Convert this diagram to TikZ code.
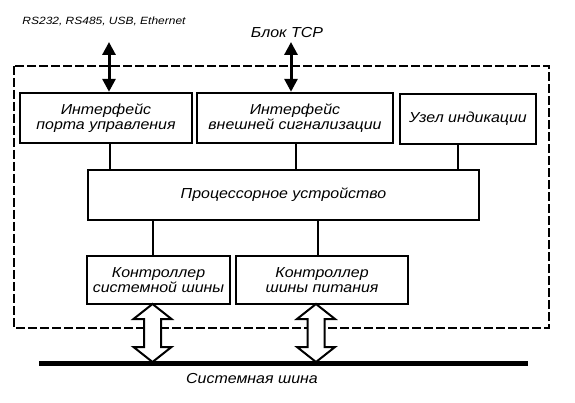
\documentclass[tikz,border=0pt]{standalone}
\usepackage{fontspec}
\setmainfont{Liberation Sans}
\newfontfamily\gostfont[FakeStretch=1.1]{Liberation Sans}
\newfontfamily\gostsmall[FakeStretch=1.14]{Liberation Sans}
\usetikzlibrary{arrows.meta}
\begin{document}
\begin{tikzpicture}[x=1pt,y=-1pt,
  txt/.style={font=\gostfont\itshape\fontsize{14.5}{15}\selectfont,align=center,inner sep=0pt},
  box/.style={draw,line width=2.4pt,inner sep=0pt,txt},
  link/.style={line width=2pt},
  port/.style={line width=3pt,{Triangle[width=13pt,length=13pt]}-{Triangle[width=13pt,length=13pt]},shorten <=0pt,shorten >=0pt},
  frame/.style={line width=2pt,dash pattern=on 9pt off 3pt},
  hollow/.style={draw,line width=2pt,fill=white,line join=miter}
]
\useasboundingbox (0,0) rectangle (575,403);
% dashed enclosure
\draw[frame] (14,66) rectangle (549,328);
% labels
\node[txt,font=\gostsmall\itshape\fontsize{10.5}{12}\selectfont] (ports) at (104,21) {RS232, RS485, USB, Ethernet};
\node[txt] (tcp) at (287,33) {Блок ТСР};
% boxes
\node[box,minimum width=172,minimum height=50] (b1) at (106,118) {Интерфейс\\порта управления};
\node[box,minimum width=196,minimum height=50] (b2) at (295,118) {Интерфейс\\внешней сигнализации};
\node[box,minimum width=136,minimum height=50] (b3) at (468,119) {Узел индикации};
\node[box,minimum width=391,minimum height=50] (proc) at (283.5,195) {Процессорное устройство};
\node[box,minimum width=143,minimum height=48] (c1) at (158.5,280) {Контроллер\\системной шины};
\node[box,minimum width=172,minimum height=48] (c2) at (322,280) {Контроллер\\шины питания};
% connectors
\draw[link] ([xshift=4pt]b1.south) -- ([xshift=4pt]b1.south |- proc.north);
\draw[link] ([xshift=1pt]b2.south) -- ([xshift=1pt]b2.south |- proc.north);
\draw[link] ([xshift=-10pt]b3.south) -- ([xshift=-10pt]b3.south |- proc.north);
\draw[link] ([xshift=-5.5pt]c1.north) -- ([xshift=-5.5pt]c1.north |- proc.south);
\draw[link] ([xshift=-4pt]c2.north) -- ([xshift=-4pt]c2.north |- proc.south);
% top ports
\coordinate (p1) at (109,42);
\coordinate (p2) at (291,42);
\draw[port] (p1) -- (p1 |- b1.north);
\draw[port] (p2) -- (p2 |- b2.north);
% system bus
\coordinate (busL) at (39,363.5);
\coordinate (busR) at (528,363.5);
\draw[line width=5pt] (busL) -- (busR);
\node[txt] (buslbl) at (252,379) {Системная шина};
% hollow double arrows
\foreach \c/\n in {152.5/c1,316/c2}{
  \draw[hollow] (\c,304) -- (\c+19,319) -- (\c+8.5,319) -- (\c+8.5,347) -- (\c+19,347) -- (\c,362)
     -- (\c-19,347) -- (\c-8.5,347) -- (\c-8.5,319) -- (\c-19,319) -- cycle;
}
\end{tikzpicture}
\end{document}
